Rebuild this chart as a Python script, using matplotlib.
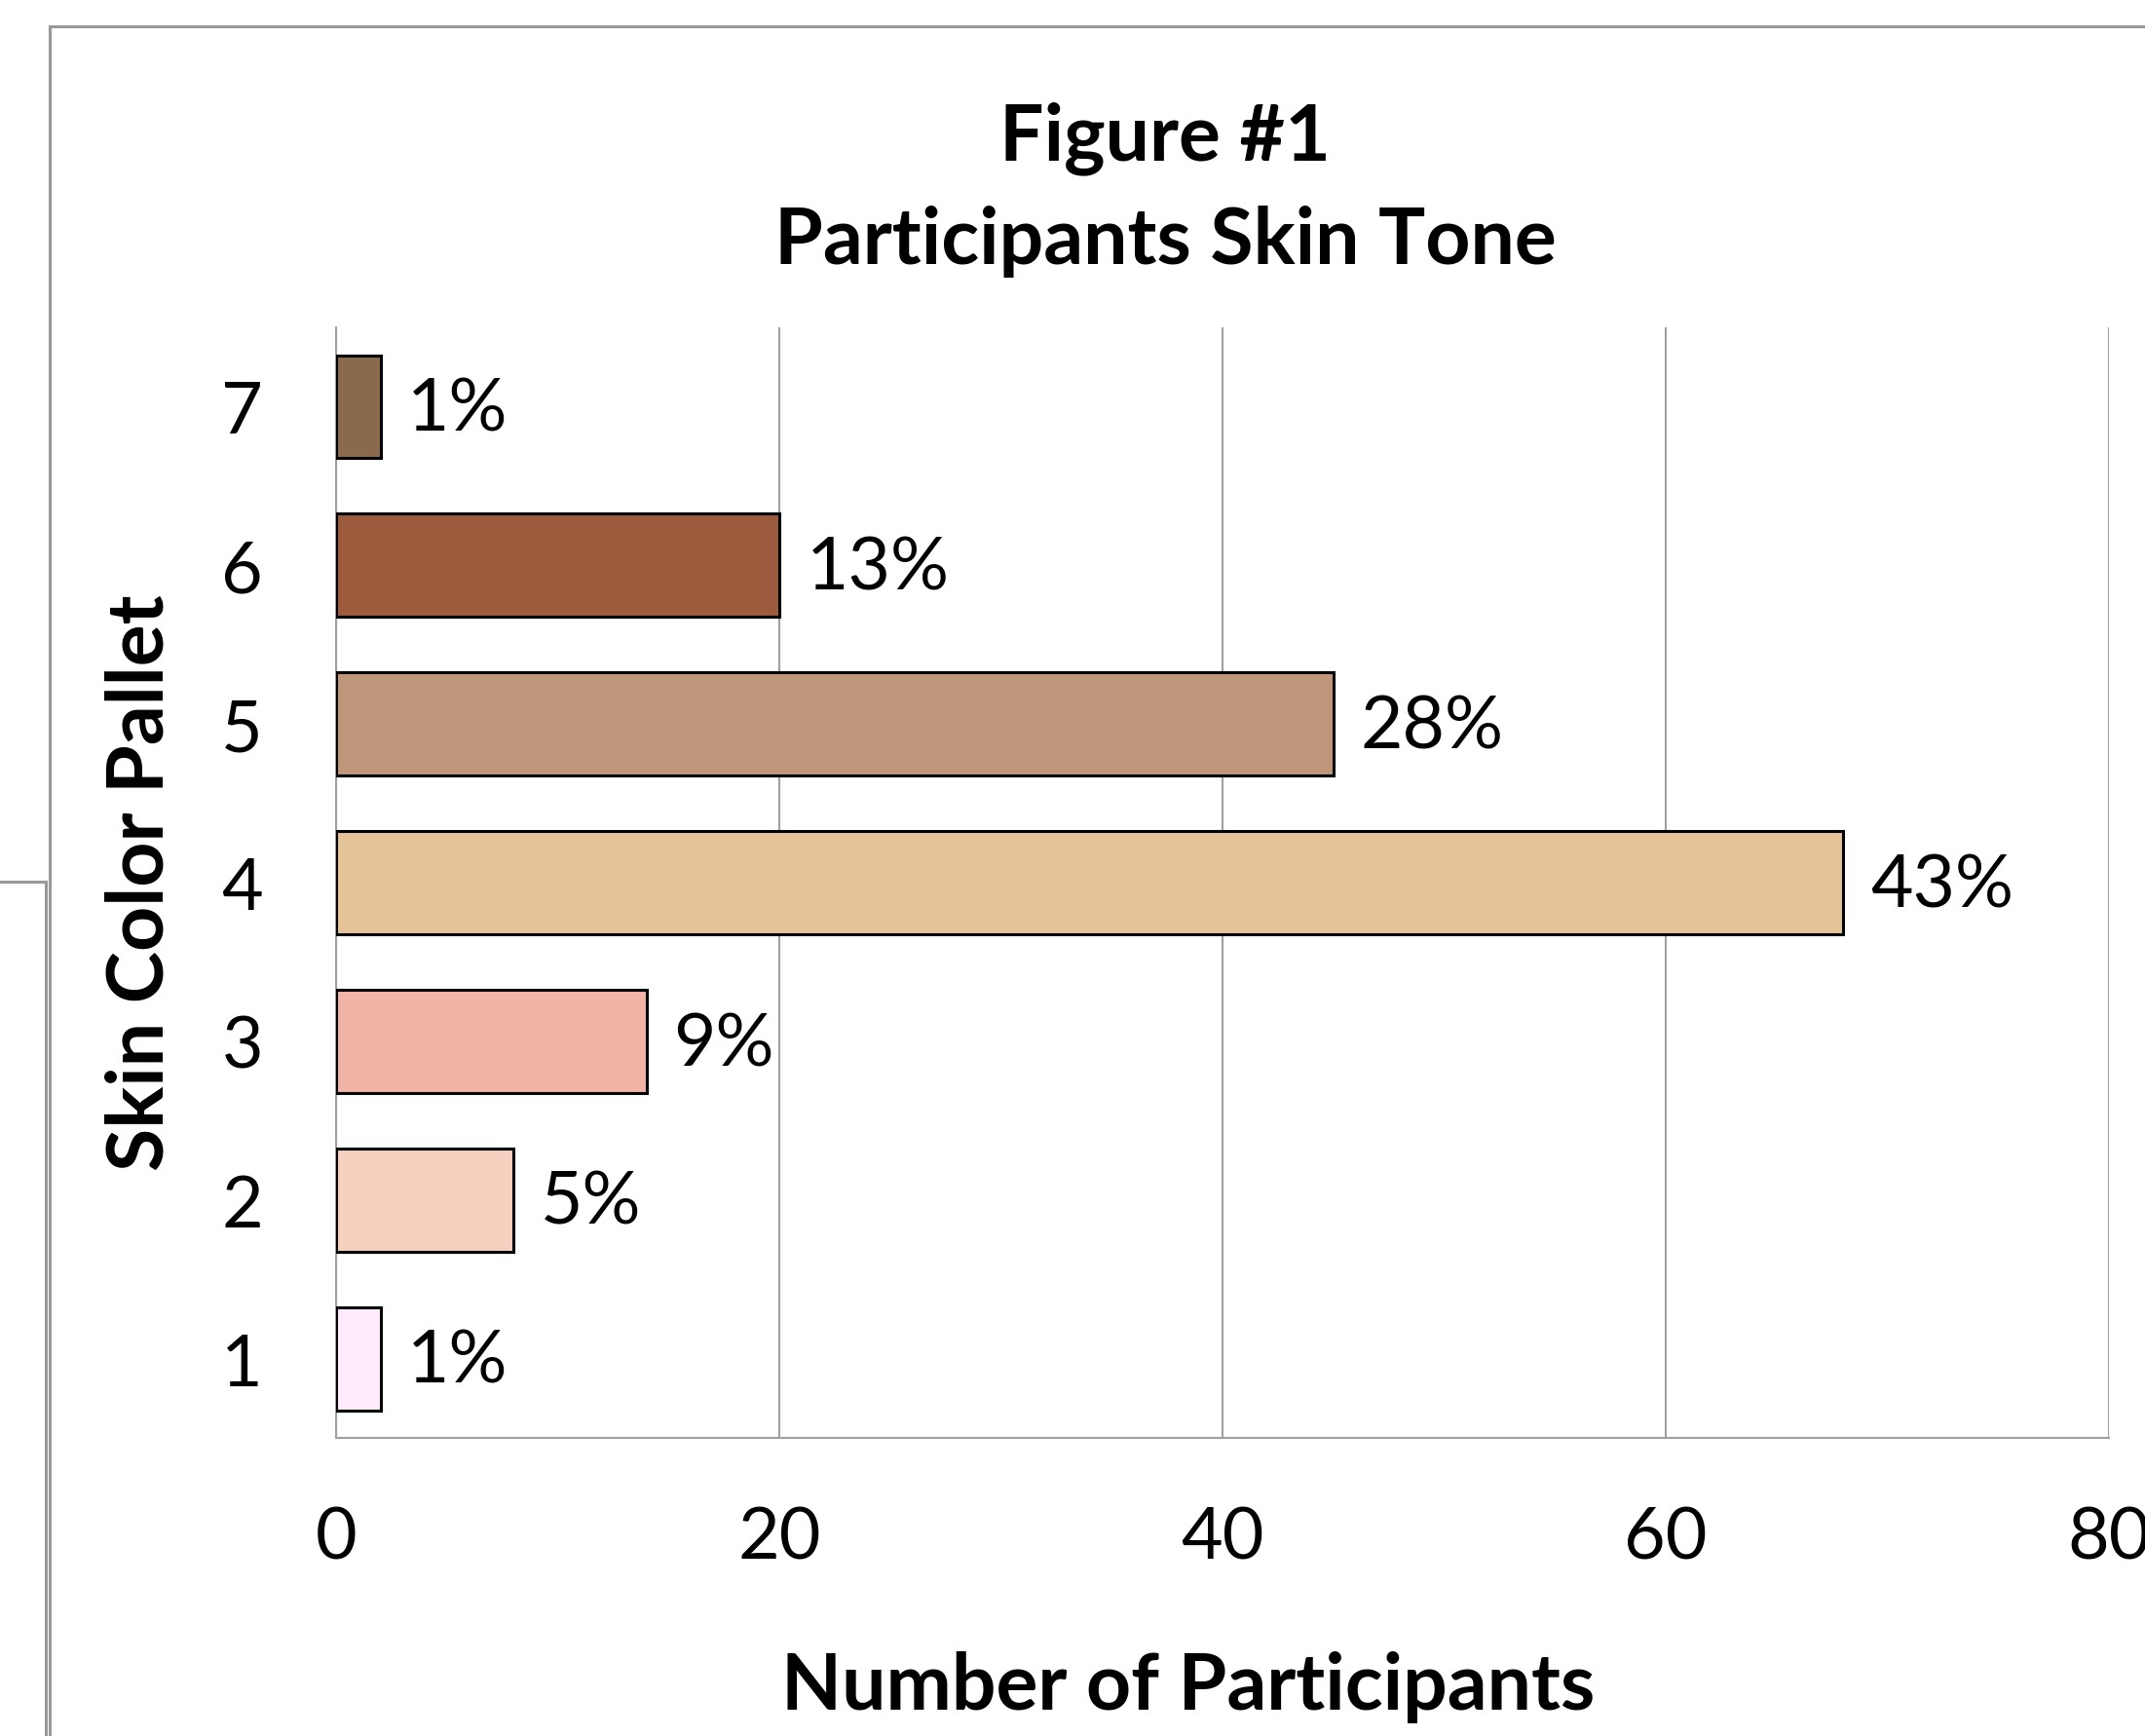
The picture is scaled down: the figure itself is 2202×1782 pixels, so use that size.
import matplotlib
matplotlib.use("Agg")
import matplotlib.pyplot as plt
from matplotlib.lines import Line2D

categories = ["1", "2", "3", "4", "5", "6", "7"]
counts = [2, 8, 14, 68, 45, 20, 2]
pct_labels = ["1%", "5%", "9%", "43%", "28%", "13%", "1%"]
bar_colors = ["#FFEBFC", "#F6D0BE", "#F0B3A5", "#E4C399", "#BF967A", "#9C5B3C", "#8B6A4C"]
x_ticks = [0, 20, 40, 60, 80]

plt.rcParams['font.family'] = ['Lato', 'DejaVu Sans']

W, H = 2202, 1783
fig = plt.figure(figsize=(W / 100, H / 100), dpi=100)
fig.patch.set_facecolor("white")

# outer frame lines (partially cropped chart frame)
fc = "#999999"
fig.add_artist(Line2D([51 / W, 1.0], [1 - 28 / H, 1 - 28 / H], color=fc, lw=2.2, transform=fig.transFigure))
fig.add_artist(Line2D([51 / W, 51 / W], [1 - 28 / H, 0.0], color=fc, lw=2.2, transform=fig.transFigure))
fig.add_artist(Line2D([0.0, 47 / W], [1 - 906 / H, 1 - 906 / H], color=fc, lw=2.2, transform=fig.transFigure))
fig.add_artist(Line2D([47 / W, 47 / W], [1 - 906 / H, 0.0], color=fc, lw=2.2, transform=fig.transFigure))

left, right, top, bottom = 345, 2165, 337, 1477
ax = fig.add_axes([left / W, 1 - bottom / H, (right - left) / W, (bottom - top) / H])

ypos = list(range(1, len(categories) + 1))
bars = ax.barh(ypos, counts, height=0.65, color=bar_colors, edgecolor="black", linewidth=2.2, zorder=3)

ax.set_xlim(0, 80)
ax.set_ylim(0.5, len(categories) + 0.5)
ax.set_xticks(x_ticks)
ax.set_xticklabels([str(t) for t in x_ticks])
ax.set_yticks(ypos)
ax.set_yticklabels(categories)

ax.grid(axis="x", color="#A0A0A0", linewidth=1.5, zorder=0)
ax.set_axisbelow(True)
for s in ["top", "right"]:
    ax.spines[s].set_visible(False)
for s in ["left", "bottom"]:
    ax.spines[s].set_color("#A0A0A0")
    ax.spines[s].set_linewidth(1.5)
ax.spines["left"].set_zorder(1)

ax.tick_params(axis="both", length=0, labelsize=53, colors="black")
ax.tick_params(axis="y", pad=54)
ax.tick_params(axis="x", pad=50)

for b, lab in zip(bars, pct_labels):
    ax.annotate(lab, xy=(b.get_width(), b.get_y() + b.get_height() / 2),
                xytext=(20, -2), textcoords="offset points",
                ha="left", va="center", fontsize=54)

fig.text(1196 / W, 1 - 164 / H, "Figure #1", ha="center", va="baseline",
         fontsize=58, fontweight="bold")
fig.text(852 * 1.404 / W, 1 - 271 / H, "Participants Skin Tone", ha="center", va="baseline",
         fontsize=58, fontweight="bold")
fig.text(1220 / W, 1 - 1755 / H, "Number of Participants", ha="center", va="baseline",
         fontsize=58, fontweight="bold")
fig.text(168 / W, 1 - 906 / H, "Skin Color Pallet", ha="center", va="baseline",
         rotation=90, rotation_mode="anchor", fontsize=58, fontweight="bold")

fig.savefig("out.png", dpi=100, facecolor="white")
